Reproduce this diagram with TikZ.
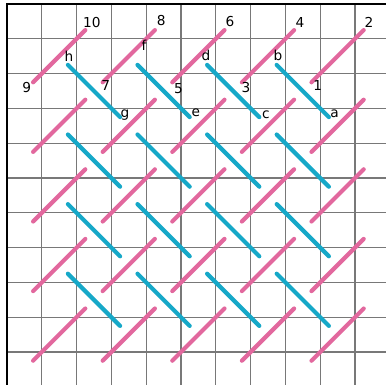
\documentclass[tikz,border=0pt]{standalone}
\usepackage{fontspec}
\setmainfont{DejaVu Sans}
\definecolor{stpink}{RGB}{226,104,158}
\definecolor{stblue}{RGB}{22,168,200}
\definecolor{gridgray}{RGB}{120,120,120}
\begin{document}
\begin{tikzpicture}[x=1cm,y=-1cm,
  gridline/.style={draw=gridgray,line width=0.9pt},
  border/.style={draw=black,line width=1.7pt},
  pinkst/.style={draw=stpink,line width=3.4pt,line cap=round},
  bluest/.style={draw=stblue,line width=3.4pt,line cap=round},
  lab/.style={inner sep=0pt,font=\fontsize{11.2}{12}\selectfont}]
\useasboundingbox (-0.201,-0.115) rectangle (10.891,10.948);
\fill[white] (-0.201,-0.115) rectangle (10.891,10.948);
% grid
\foreach \i in {1,...,10} {
  \draw[gridline] (\i,0) -- (\i,10.95);
  \draw[gridline] (0,\i) -- (10.9,\i);
}
\draw[border] (0,10.95) -- (0,0) -- (10.9,0);
% pink stitches (/)
\foreach \a in {1,3,5,7,9} {
  \foreach \b in {2,4,6,8,10} {
    \draw[pinkst] (\a-0.25,\b+0.25) -- (\a+1.25,\b-1.25);
  }
}
% blue stitches (\)
\foreach \a in {2,4,6,8} {
  \foreach \b in {2,4,6,8} {
    \draw[bluest] (\a-0.25,\b-0.25) -- (\a+1.25,\b+1.25);
  }
}
% labels
\node[lab] (n10) at (2.44,0.52) {10};
\node[lab] (n8) at (4.43,0.46) {8};
\node[lab] (n6) at (6.41,0.49) {6};
\node[lab] (n4) at (8.42,0.54) {4};
\node[lab] (n2) at (10.40,0.52) {2};
\node[lab] (n9) at (0.57,2.39) {9};
\node[lab] (n7) at (2.84,2.33) {7};
\node[lab] (n5) at (4.93,2.42) {5};
\node[lab] (n3) at (6.87,2.39) {3};
\node[lab] (n1) at (8.93,2.34) {1};
\node[lab] (lh) at (1.78,1.50) {h};
\node[lab] (lf) at (3.94,1.18) {f};
\node[lab] (ld) at (5.72,1.47) {d};
\node[lab] (lb) at (7.79,1.47) {b};
\node[lab] (lg) at (3.39,3.19) {g};
\node[lab] (le) at (5.43,3.12) {e};
\node[lab] (lc) at (7.44,3.19) {c};
\node[lab] (la) at (9.41,3.14) {a};
\end{tikzpicture}
\end{document}
